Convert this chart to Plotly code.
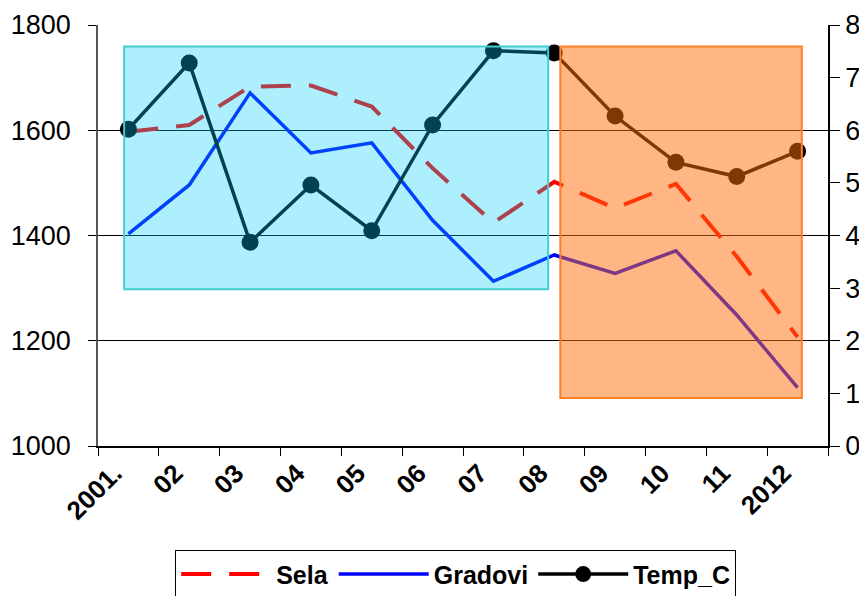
import plotly.graph_objects as go

years = ["2001.", "02", "03", "04", "05", "06", "07", "08", "09", "10", "11", "2012"]
sela = [1597, 1610, 1683, 1685, 1645, 1528, 1424, 1502, 1452, 1498, 1360, 1207]
gradovi = [1403, 1496, 1671, 1557, 1576, 1429, 1313, 1363, 1328, 1371, 1249, 1111]
temp_c = [6.02, 7.28, 3.87, 4.96, 4.09, 6.1, 7.51, 7.47, 6.27, 5.39, 5.12, 5.6]

left_ticks = [1000, 1200, 1400, 1600, 1800]
right_ticks = [0, 1, 2, 3, 4, 5, 6, 7, 8]

FONT = "Arial, Liberation Sans, sans-serif"

fig = go.Figure()
fig.add_trace(go.Scatter(x=years, y=sela, name="Sela", mode="lines",
                         line=dict(color="#ff0000", width=4, dash="30px,18px")))
fig.add_trace(go.Scatter(x=years, y=gradovi, name="Gradovi", mode="lines",
                         line=dict(color="#0000ff", width=3.5)))
fig.add_trace(go.Scatter(x=years, y=temp_c, name="Temp_C", mode="lines+markers",
                         yaxis="y2",
                         line=dict(color="#000000", width=3.5),
                         marker=dict(color="#000000", size=17, symbol="circle")))

# shaded period boxes (drawn over the lines, translucent)
fig.add_shape(type="rect", xref="x", yref="y", x0=-0.07, x1=6.9, y0=1298, y1=1759,
              layer="above", fillcolor="rgba(0,205,245,0.32)",
              line=dict(color="#40d0d0", width=2))
fig.add_shape(type="rect", xref="x", yref="y", x0=7.1, x1=11.07, y0=1091, y1=1759,
              layer="above", fillcolor="rgba(255,110,10,0.5)",
              line=dict(color="#ff7f27", width=2))

fig.update_layout(
    width=867, height=596,
    margin=dict(l=90, r=47, t=17, b=158),
    paper_bgcolor="white", plot_bgcolor="white",
    font=dict(family=FONT, color="black"),
    showlegend=True,
    legend=dict(orientation="h", xref="paper", x=0.49, xanchor="center",
                yref="container", y=0.09, yanchor="top",
                bordercolor="black", borderwidth=1, bgcolor="white",
                font=dict(family=FONT, size=25, color="black", weight="bold"),
                itemwidth=90, tracegroupgap=0),
    xaxis=dict(type="category", range=[-0.5, 11.5], tickangle=-45,
               tickson="boundaries", ticks="outside", ticklen=8, tickcolor="black",
               showline=True, linecolor="black", linewidth=1.5, showgrid=False,
               tickfont=dict(family=FONT, size=26, color="black", weight="bold"),
               ticklabelshift=-14,
               zeroline=False, automargin=False),
    yaxis=dict(range=[1000, 1800], tickvals=left_ticks, ticks="outside", ticklen=8,
               tickcolor="black", showline=True, linecolor="#555555", linewidth=1.5,
               showgrid=True, gridcolor="black", gridwidth=1,
               tickfont=dict(family=FONT, size=27, color="black"), zeroline=False,
               ticklabelstandoff=12, automargin=False),
    yaxis2=dict(range=[0, 8], tickvals=right_ticks, overlaying="y", side="right",
                ticks="outside", ticklen=10, tickcolor="black", showline=True,
                linecolor="black", linewidth=1.5, showgrid=False,
                tickfont=dict(family=FONT, size=27, color="black"), zeroline=False,
                automargin=False),
)

fig.write_html("out.html")
